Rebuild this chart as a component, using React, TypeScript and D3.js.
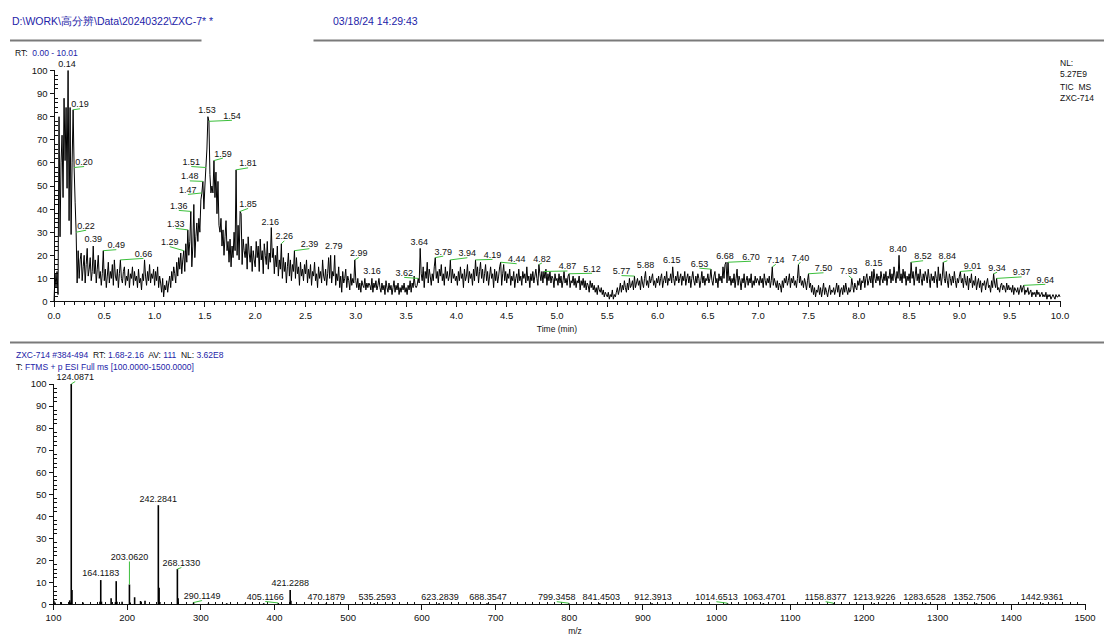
import React from 'react';
import * as d3 from 'd3';

// ---------- Header text ----------
const filePath = 'D:\\WORK\\高分辨\\Data\\20240322\\ZXC-7* *';
const fileDate = '03/18/24 14:29:43';
const rtRange = '0.00 - 10.01';
const nlLines = ['NL:', '5.27E9', 'TIC  MS', 'ZXC-714'];

// ---------- TIC chromatogram (relative abundance every 0.01 min) ----------
const tic0 = [0,12,6,13,3,80,28,60,72,45,88,61,84,49,100,35,84,29,60,83,58,43,30,8,22,
10,18,21,9,15,20,8,16,23,11,14,19,9,13,24,12,18,8,14,20,10,13,7,12,22,
9,14,6,11,17,8,13,10,16,7,18,11,9,14,6,12,18,10,8,13,15,7,11,9,14,
6,12,10,15,7,13,9,11,6,14,8,10,5,12,9,18,11,7,13,9,16,8,12,10,14];
const tic1 = [7,13,9,15,6,11,8,4,10,2,7,5,9,4,8,11,6,13,9,15,12,8,17,11,19,
14,21,12,18,22,13,25,17,31,20,26,39,15,24,42,19,28,34,26,36,30,44,47,52,40,
50,58,66,80,78,55,47,50,47,61,45,56,38,52,33,30,36,24,31,20,28,35,22,26,17,
27,15,24,19,30,22,57,20,33,18,39,38,16,27,22,19,25,14,28,21,17,24,13,22,18];
const tic2 = [15,26,19,24,13,27,18,22,12,25,20,16,26,14,21,17,32,19,23,12,20,15,24,11,18,
14,25,10,19,13,17,8,15,21,11,18,9,16,13,22,10,19,12,15,7,17,11,14,9,16,
12,18,8,14,10,16,7,13,11,17,9,12,6,15,10,13,8,18,11,9,14,7,12,19,10,
20,8,13,11,20,7,12,9,15,6,11,4,13,8,10,14,6,11,9,5,12,7,10,8,18];
const tic3 = [9,6,10,5,8,4,9,7,6,10,5,8,6,8,7,5,10,4,8,6,9,5,7,10,6,
4,8,5,7,3,9,6,4,8,5,7,3,6,9,4,7,5,8,3,6,4,7,5,8,4,
6,3,7,5,9,4,8,6,11,7,6,7,10,8,23,12,9,15,6,13,10,17,8,14,11,
7,12,9,15,19,10,13,8,14,11,16,9,12,7,15,10,13,9,11,18,8,14,10,12,9];
const tic4 = [11,7,13,9,15,10,12,6,14,9,11,16,8,13,10,12,7,14,9,18,11,15,8,13,17,
10,14,8,12,16,9,13,7,11,15,10,12,6,14,9,13,8,11,15,17,7,12,16,9,13,
8,12,10,14,7,11,9,13,6,10,12,8,14,9,11,7,13,10,12,8,15,9,11,6,12,
9,13,8,11,14,10,7,16,12,9,13,8,13,10,14,7,12,9,13,8,11,10,6,12,9];
const tic5 = [10,7,12,8,11,6,9,13,8,10,7,11,12,6,9,8,11,7,10,6,9,8,11,5,9,
7,10,6,9,5,8,7,4,9,6,8,5,7,4,6,3,7,5,4,6,3,5,2,4,3,
2,4,1,3,2,5,1,3,2,4,6,3,5,8,4,7,5,9,6,4,8,5,10,6,7,
9,5,11,6,8,10,7,9,5,11,8,6,10,13,7,9,6,11,8,10,12,7,9,6,10];
const tic6 = [8,11,7,10,12,6,9,11,8,13,7,10,9,12,8,15,10,7,11,9,13,8,10,12,7,
11,9,13,7,10,12,8,11,6,10,13,9,7,11,8,12,10,6,9,13,8,11,7,10,9,
12,8,10,14,9,7,11,13,8,10,6,12,9,11,8,15,10,16,17,8,17,9,11,7,10,
8,12,6,10,14,7,11,9,5,10,8,12,6,9,11,7,10,8,12,6,9,7,11,8,10];
const tic7 = [9,7,11,8,10,6,12,9,7,10,8,11,6,9,15,7,10,8,6,9,5,8,7,4,9,
6,10,8,11,7,9,12,6,10,8,11,7,9,6,10,16,8,11,7,9,6,10,8,5,9,
12,6,8,4,7,3,6,2,5,4,7,3,6,2,5,8,3,6,4,2,5,7,3,5,4,
6,3,5,8,4,7,2,5,6,3,7,4,8,5,3,6,4,5,10,7,4,8,6,5,9];
const tic8 = [7,10,5,9,8,11,6,10,12,7,9,11,8,13,6,14,10,8,12,9,11,7,13,10,8,
12,9,13,7,11,10,14,8,12,9,15,11,8,13,10,20,9,12,8,14,10,13,7,11,9,
12,8,17,10,13,7,11,15,9,12,8,14,10,7,12,9,13,11,8,14,10,6,12,9,11,
8,13,10,6,15,9,12,7,11,17,10,8,13,9,6,12,10,7,11,8,13,9,6,10,8];
const tic9 = [11,13,8,10,6,12,9,7,11,5,10,8,12,6,9,7,11,5,8,10,6,9,4,8,7,
9,5,8,10,6,7,4,9,6,12,8,6,10,5,6,4,7,8,5,7,6,4,8,5,7,
5,6,4,7,3,6,5,4,6,3,5,7,4,6,7,3,5,4,6,3,4,5,2,4,3,
4,2,5,3,4,2,3,4,2,3,2,4,1,3,2,3,1,2,3,2,1,3,2,2,3,2];
const ticStep = 0.01;
const ticValues = [...tic0, ...tic1, ...tic2, ...tic3, ...tic4, ...tic5, ...tic6, ...tic7, ...tic8, ...tic9];

// labelled chromatogram peaks (retention time)
const ticLabelTimes = [0.14,0.19,0.20,0.22,0.39,0.49,0.66,1.29,1.33,1.36,1.47,1.48,1.51,1.53,1.54,1.59,1.81,1.85,
  2.16,2.26,2.39,2.79,2.99,3.16,3.62,3.64,3.79,3.94,4.19,4.44,4.82,4.87,5.12,5.77,5.88,6.15,6.53,6.68,6.70,
  7.14,7.40,7.50,7.93,8.15,8.40,8.52,8.84,9.01,9.34,9.37,9.64];
// label placement [dx, dy, connector]
const ticLabelLayout: [number, number, number][] = [
  [-1,-4,0],[7,-2.5,1],[10,-2.5,1],[10,-3.5,1],[0,-4.5,0],[13,-2.5,1],[23,-3,1],[-14,-5.5,1],[-12,-3,1],[-12,-2.5,1],
  [-14,0,1],[-13,-2,1],[-14.6,-2.5,1],[-1,-4,0],[23,-2.5,1],[9,-4,1],[12,-3.5,1],[8,-4.5,1],
  [-1,-3,0],[3,-4.5,1],[15,-3.5,1],[-1,-6,0],[4,-4,1],[0,-4,0],[-14,-2.5,1],[-1,-3.5,0],[8,-3,1],[17,-3.7,1],
  [17,-2,1],[16,0,1],[3,-3,1],[23.5,-2,1],[23,-2,1],[-13,-2,1],[0,-3,0],[-1,-3.5,0],[-11.5,-2.5,1],[-1,-3,0],[23,-2.5,1],
  [3.5,-4,1],[2,-4,1],[15,-2.5,1],[-3,-4,1],[0,-3,0],[-1,-3,0],[12,-3,1],[4,-3,1],[12,-2.5,1],[3.5,-3,1],[25,-3,1],[21.5,-2.5,1]];

// ---------- Mass spectrum ----------
const specHeader = [
  { t: 'ZXC-714 #384-494', c: 'b' }, { t: '  RT: ', c: 'k' }, { t: '1.68-2.16', c: 'b' },
  { t: '  AV: ', c: 'k' }, { t: '111', c: 'b' }, { t: '  NL: ', c: 'k' }, { t: '3.62E8', c: 'b' }];
const specFilter = [{ t: 'T: ', c: 'k' }, { t: 'FTMS + p ESI Full ms [100.0000-1500.0000]', c: 'b' }];
const specMz = [100.5,102.1,110.5,122.0,123.0,124.0871,125.09,140.1,163.1,164.1183,165.1,178.2,184.1,185.1,186.1,193.1,
  203.062,204.1,210.1,218.2,224.2,242.2841,243.3,244.3,268.133,269.1,290.1149,310.2,335.1,360.2,385.3,405.1166,
  421.2288,422.2,470.1879,535.2593,623.2839,688.3547,799.3458,841.4503,912.3913,1014.6513,1063.4701,1158.8377,
  1213.9226,1283.6528,1352.7506,1442.9361];
const specInt = [1.6,0.8,1.0,1.8,0.8,100,6.5,0.8,1.2,11,1.2,2.8,1.0,10.5,1.2,1.2,
  9,0.8,3.2,1.5,1.6,45,7.5,1.0,16,2.8,0.8,0.4,0.5,0.4,0.5,0.6,
  6.5,1.6,0.5,0.5,0.5,0.5,0.5,0.5,0.5,0.5,0.5,0.5,
  0.5,0.5,0.5,0.5];
const specLabelMz = ['124.0871','164.1183','203.0620','242.2841','268.1330','290.1149','405.1166','421.2288','470.1879',
  '535.2593','623.2839','688.3547','799.3458','841.4503','912.3913','1014.6513','1063.4701','1158.8377','1213.9226',
  '1283.6528','1352.7506','1442.9361'];
const specLabelLayout: [number, number, number][] = [
  [4,-4,1],[0,-4,0],[0,-24.5,1],[0,-3.5,0],[4,-3,1],[8.5,-3.5,1],[-13,-3,1],[0,-3.5,0],[0,-3,0],
  [3,-3,0],[1,-3,0],[1,-3,0],[-12,-3,1],[1.5,-3,0],[1,-3,0],[-11,-3,1],[1,-3,0],[-8,-3,1],[0,-3,0],
  [-1,-3,0],[-2,-3,0],[-1,-3,0]];

const FONT = '"Liberation Sans", Arial, sans-serif';
const BLUE = '#2323a8';
const GREEN = '#3cbf3c';

export default function App() {
  const xT = d3.scaleLinear().domain([0, 10]).range([54, 1060]);
  const yT = d3.scaleLinear().domain([0, 100]).range([301.5, 70.5]);
  const xB = d3.scaleLinear().domain([100, 1500]).range([53.5, 1085]);
  const yB = d3.scaleLinear().domain([0, 100]).range([604.3, 384]);

  const ticPts: [number, number][] = ticValues.map((v, i) => [i * ticStep, v]);
  const line = d3.line<[number, number]>().x(d => xT(d[0])).y(d => yT(d[1]));

  const yMajor = d3.range(0, 101, 10);
  const yMinor = d3.range(0, 101, 2).filter(v => v % 10 !== 0);
  const xTMajor = d3.range(0, 10.001, 0.5);
  const xTMinor = d3.range(0, 101, 1).map(v => v / 10).filter(v => Math.round(v * 10) % 5 !== 0);
  const xBMajor = d3.range(100, 1501, 100);
  const xBMinor = d3.range(100, 1501, 10).filter(v => v % 100 !== 0);

  const valueAt = (t: number) => ticValues[Math.round(t / ticStep)];

  const tspanColor = (c: string) => (c === 'b' ? BLUE : '#111');

  return (
    <svg width={1104} height={635} style={{ position: 'absolute', left: 0, top: 0, background: '#fff' }}
      fontFamily={FONT}>
      {/* header */}
      <text x={12} y={25} fontSize={10.5} fill={BLUE}>{filePath}</text>
      <text x={333} y={25} fontSize={10.5} fill={BLUE}>{fileDate}</text>
      <line x1={10} x2={201.5} y1={40.5} y2={40.5} stroke="#7a7a7a" strokeWidth={2} />
      <line x1={313.5} x2={1104} y1={40.5} y2={40.5} stroke="#7a7a7a" strokeWidth={2} />
      <text x={15} y={56} fontSize={8.5} xmlSpace="preserve">
        <tspan fill="#111">RT:  </tspan><tspan fill={BLUE}>{rtRange}</tspan>
      </text>
      {nlLines.map((s, i) => (
        <text key={s} x={1060} y={[66, 77, 89.5, 100.5][i]} fontSize={8.5} fill="#111" xmlSpace="preserve">{s}</text>
      ))}

      {/* TIC axes */}
      <g shapeRendering="crispEdges" stroke="#111" strokeWidth={1}>
        <line x1={54.5} x2={54.5} y1={70} y2={302} />
        <line x1={54} x2={1060.5} y1={301.5} y2={301.5} />
        {yMajor.map(v => <line key={'ym' + v} x1={49.5} x2={54.5} y1={yT(v)} y2={yT(v)} />)}
        {yMinor.map(v => <line key={'yn' + v} x1={54.5} x2={57.5} y1={yT(v)} y2={yT(v)} />)}
        {xTMajor.map(v => <line key={'xm' + v} x1={xT(v)} x2={xT(v)} y1={301.5} y2={307} />)}
        {xTMinor.map(v => <line key={'xn' + v} x1={xT(v)} x2={xT(v)} y1={301.5} y2={304.5} />)}
      </g>
      <g fontSize={9.5} fill="#111">
        {yMajor.map(v => <text key={'yl' + v} x={47.5} y={yT(v) + 3.4} textAnchor="end">{v}</text>)}
        {xTMajor.map(v => <text key={'xl' + v} x={xT(v)} y={318.5} textAnchor="middle">{v.toFixed(1)}</text>)}
        <text x={557} y={331.5} fontSize={8.5} textAnchor="middle">Time (min)</text>
      </g>
      <path d={line(ticPts) || ''} fill="none" stroke="#000" strokeWidth={1} strokeLinejoin="round" />
      {ticLabelTimes.map((t, i) => {
        const [dx, dy, conn] = ticLabelLayout[i];
        const px = xT(t), py = yT(valueAt(t));
        return (
          <g key={'tl' + t}>
            {conn ? <line x1={px} y1={py} x2={px + dx} y2={py + dy + 1.5} stroke={GREEN} strokeWidth={1} /> : null}
            <text x={px + dx} y={py + dy} fontSize={9} textAnchor="middle" fill="#111">{t.toFixed(2)}</text>
          </g>
        );
      })}

      {/* separator */}
      <line x1={10} x2={1104} y1={342.5} y2={342.5} stroke="#7a7a7a" strokeWidth={2} />
      <text x={16} y={358} fontSize={8.5} xmlSpace="preserve">
        {specHeader.map((s, i) => <tspan key={i} fill={tspanColor(s.c)}>{s.t}</tspan>)}
      </text>
      <text x={16} y={369.5} fontSize={8.5} xmlSpace="preserve">
        {specFilter.map((s, i) => <tspan key={i} fill={tspanColor(s.c)}>{s.t}</tspan>)}
      </text>

      {/* spectrum axes */}
      <g shapeRendering="crispEdges" stroke="#111" strokeWidth={1}>
        <line x1={53.5} x2={53.5} y1={383.5} y2={605} />
        <line x1={53} x2={1085.5} y1={604.5} y2={604.5} />
        {yMajor.map(v => <line key={'bym' + v} x1={48.5} x2={53.5} y1={yB(v)} y2={yB(v)} />)}
        {yMinor.map(v => <line key={'byn' + v} x1={53.5} x2={56.5} y1={yB(v)} y2={yB(v)} />)}
        {xBMajor.map(v => <line key={'bxm' + v} x1={xB(v)} x2={xB(v)} y1={604.5} y2={610} />)}
        {xBMinor.map(v => <line key={'bxn' + v} x1={xB(v)} x2={xB(v)} y1={601.5} y2={604.5} />)}
      </g>
      <g fontSize={9.5} fill="#111">
        {yMajor.map(v => <text key={'byl' + v} x={46.5} y={yB(v) + 3.4} textAnchor="end">{v}</text>)}
        {xBMajor.map(v => <text key={'bxl' + v} x={xB(v)} y={620.5} textAnchor="middle">{v}</text>)}
        <text x={575} y={634} fontSize={8.5} textAnchor="middle">m/z</text>
      </g>
      <g stroke="#000" strokeWidth={1.6}>
        {specMz.map((m, i) => (
          <line key={'st' + m} x1={xB(m)} x2={xB(m)} y1={yB(0)} y2={yB(specInt[i])} />
        ))}
      </g>
      {specLabelMz.map((lab, i) => {
        const m = +lab;
        const idx = specMz.findIndex(v => Math.abs(v - m) < 0.01);
        const [dx, dy, conn] = specLabelLayout[i];
        const px = xB(m), py = yB(idx >= 0 ? specInt[idx] : 0);
        return (
          <g key={'sl' + lab}>
            {conn ? <line x1={px} y1={py} x2={px + dx} y2={py + dy + 1.5} stroke={GREEN} strokeWidth={1} /> : null}
            <text x={px + dx} y={py + dy} fontSize={9} textAnchor="middle" fill="#111">{lab}</text>
          </g>
        );
      })}
    </svg>
  );
}
